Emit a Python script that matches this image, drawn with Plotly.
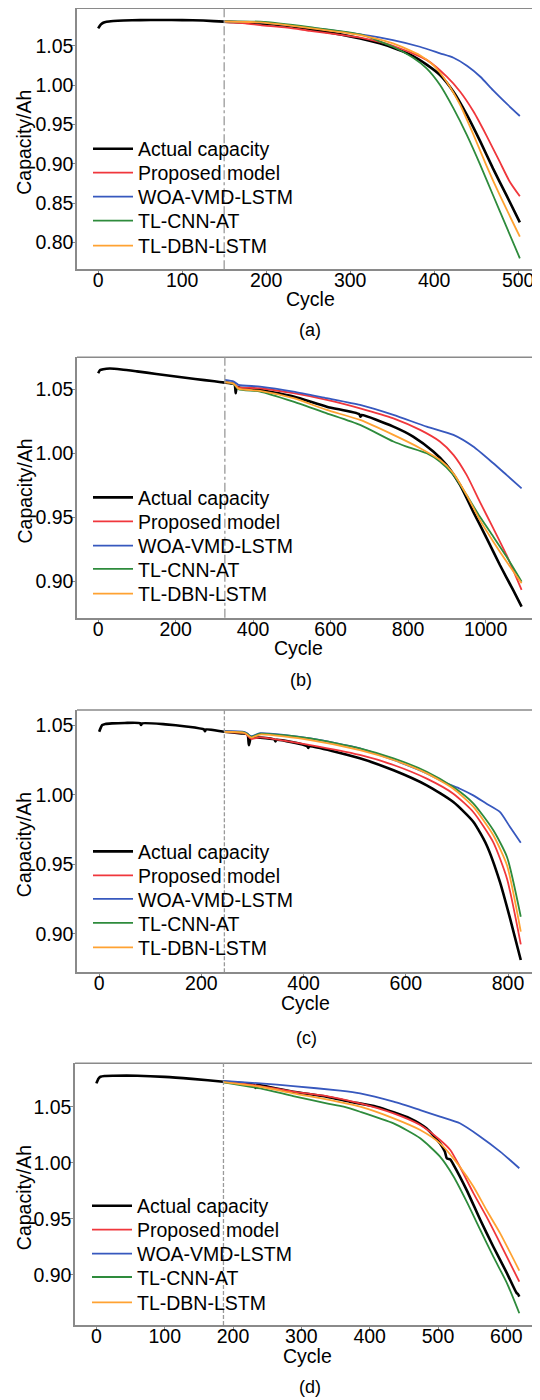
import plotly.graph_objects as go

# ---------------- data ----------------
names = ["Actual capacity", "Proposed model", "WOA-VMD-LSTM", "TL-CNN-AT", "TL-DBN-LSTM"]
colors = ["#000000", "#F0373C", "#3758BE", "#2E8B3C", "#FFA232"]
widths = [2.6, 1.8, 1.8, 1.8, 1.8]
captions = ["(a)", "(b)", "(c)", "(d)"]
start_cycles = [150, 327, 245, 186]

# Panel (a)
a_act_x = [0, 3, 6, 10, 18, 30, 50, 75, 100, 125, 150, 175, 193, 225, 252, 280, 312, 335, 351, 371, 391, 407, 423, 439, 455, 470, 486, 502]
a_act_y = [1.072, 1.0768, 1.0792, 1.0805, 1.0814, 1.0821, 1.0826, 1.0827, 1.0826, 1.0820, 1.0806, 1.0797, 1.0784, 1.0755, 1.0710, 1.0660, 1.0593, 1.0530, 1.0475, 1.0390, 1.0260, 1.0127, 0.9915, 0.9620, 0.9280, 0.8940, 0.8600, 0.8254]
a_red_x = [150, 175, 193, 225, 252, 280, 312, 351, 391, 415, 431, 447, 462, 478, 490, 502]
a_red_y = [1.0800, 1.0785, 1.0763, 1.0730, 1.0690, 1.0650, 1.0602, 1.0500, 1.0320, 1.0106, 0.9915, 0.9660, 0.9364, 0.9025, 0.8771, 0.8585]
a_blue_x = [150, 193, 252, 312, 351, 383, 407, 423, 439, 455, 470, 486, 502]
a_blue_y = [1.0808, 1.0797, 1.0729, 1.0644, 1.0572, 1.0487, 1.0403, 1.0347, 1.0246, 1.0106, 0.9936, 0.9767, 0.9606]
a_green_x = [150, 193, 252, 312, 351, 375, 391, 407, 423, 439, 455, 470, 486, 502]
a_green_y = [1.0810, 1.0805, 1.0735, 1.0644, 1.0487, 1.0347, 1.0212, 1.0000, 0.9703, 0.9364, 0.8983, 0.8602, 0.8199, 0.7797]
a_orange_x = [150, 193, 252, 312, 351, 383, 399, 415, 431, 447, 462, 478, 502]
a_orange_y = [1.0808, 1.0797, 1.0725, 1.0636, 1.0530, 1.0380, 1.0254, 1.0040, 0.9746, 0.9364, 0.8983, 0.8602, 0.8072]

# Panel (b)
b_act_x = [0, 5, 13, 30, 60, 100, 150, 200, 250, 300, 327, 345, 352, 355, 358, 365, 400, 418, 504, 590, 674, 677, 680, 762, 813, 865, 899, 934, 968, 1003, 1037, 1071, 1093]
b_act_y = [1.0625, 1.0650, 1.0657, 1.0662, 1.0655, 1.0640, 1.0620, 1.0600, 1.0580, 1.0562, 1.0552, 1.0545, 1.0540, 1.0469, 1.0520, 1.0512, 1.0505, 1.0495, 1.0443, 1.0364, 1.0305, 1.0285, 1.0298, 1.0208, 1.0130, 1.0013, 0.9909, 0.9752, 0.9543, 0.9334, 0.9125, 0.8930, 0.8800]
b_red_x = [327, 350, 362, 400, 418, 504, 590, 676, 762, 831, 882, 917, 951, 985, 1020, 1054, 1093]
b_red_y = [1.0555, 1.0545, 1.0515, 1.0510, 1.0508, 1.0469, 1.0417, 1.0351, 1.0273, 1.0182, 1.0091, 0.9987, 0.9830, 0.9621, 0.9412, 0.9204, 0.8930]
b_blue_x = [327, 350, 362, 418, 504, 590, 676, 762, 848, 917, 968, 1020, 1054, 1093]
b_blue_y = [1.0573, 1.0560, 1.0535, 1.0521, 1.0482, 1.0430, 1.0377, 1.0299, 1.0208, 1.0143, 1.0052, 0.9921, 0.9830, 0.9725]
b_green_x = [327, 350, 362, 418, 504, 590, 676, 762, 796, 848, 882, 917, 951, 985, 1020, 1054, 1093]
b_green_y = [1.0555, 1.0540, 1.0500, 1.0482, 1.0403, 1.0312, 1.0221, 1.0091, 1.0052, 1.0000, 0.9935, 0.9830, 0.9673, 0.9504, 0.9347, 0.9191, 0.8995]
b_orange_x = [327, 350, 362, 418, 504, 590, 676, 762, 831, 882, 917, 951, 985, 1020, 1054, 1093]
b_orange_y = [1.0555, 1.0542, 1.0505, 1.0487, 1.0430, 1.0338, 1.0260, 1.0143, 1.0039, 0.9948, 0.9843, 0.9673, 0.9478, 0.9308, 0.9152, 0.8982]

# Panel (c)
c_act_x = [0, 3, 6, 12, 25, 50, 80, 82, 84, 130, 170, 205, 207, 209, 245, 278, 290, 293, 297, 305, 315, 343, 345, 347, 407, 409, 411, 510, 576, 641, 693, 732, 758, 784, 804, 825]
c_act_y = [1.0452, 1.0480, 1.0500, 1.0508, 1.0512, 1.0515, 1.0513, 1.0500, 1.0512, 1.0505, 1.0490, 1.0469, 1.0455, 1.0468, 1.0452, 1.0440, 1.0435, 1.0356, 1.0410, 1.0411, 1.0410, 1.0396, 1.0383, 1.0394, 1.0349, 1.0336, 1.0347, 1.0261, 1.0175, 1.0067, 0.9947, 0.9806, 0.9639, 0.9376, 0.9112, 0.8813]
c_red_x = [245, 285, 298, 315, 413, 510, 576, 641, 693, 732, 771, 798, 825]
c_red_y = [1.0450, 1.0440, 1.0400, 1.0412, 1.0356, 1.0285, 1.0213, 1.0115, 1.0007, 0.9876, 0.9660, 0.9397, 0.8926]
c_blue_x = [245, 285, 298, 315, 413, 510, 576, 641, 680, 706, 732, 758, 784, 804, 825]
c_blue_y = [1.0458, 1.0450, 1.0420, 1.0442, 1.0404, 1.0333, 1.0249, 1.0153, 1.0081, 1.0043, 0.9995, 0.9935, 0.9876, 0.9768, 0.9655]
c_green_x = [245, 285, 298, 315, 413, 510, 576, 641, 693, 732, 771, 798, 825]
c_green_y = [1.0452, 1.0445, 1.0415, 1.0438, 1.0404, 1.0333, 1.0261, 1.0165, 1.0055, 0.9938, 0.9746, 0.9553, 0.9124]
c_orange_x = [245, 285, 298, 315, 413, 510, 576, 641, 693, 732, 771, 798, 825]
c_orange_y = [1.0452, 1.0443, 1.0410, 1.0432, 1.0392, 1.0320, 1.0249, 1.0153, 1.0043, 0.9914, 0.9711, 0.9493, 0.9017]

# Panel (d)
d_act_x = [0, 3, 6, 12, 25, 60, 100, 140, 186, 231, 233, 235, 240, 288, 337, 371, 410, 459, 483, 503, 510, 513, 518, 523, 542, 562, 581, 601, 615, 617, 619]
d_act_y = [1.0708, 1.0750, 1.0767, 1.0774, 1.0776, 1.0776, 1.0766, 1.0748, 1.0723, 1.0695, 1.0668, 1.0693, 1.0690, 1.0634, 1.0589, 1.0545, 1.0500, 1.0396, 1.0307, 1.0173, 1.0100, 1.0039, 1.0030, 0.9980, 0.9757, 0.9490, 0.9252, 0.9015, 0.8840, 0.8830, 0.8807]
d_red_x = [186, 240, 288, 337, 386, 435, 474, 503, 518, 532, 552, 571, 591, 619]
d_red_y = [1.0725, 1.0684, 1.0634, 1.0595, 1.0530, 1.0441, 1.0337, 1.0203, 1.0114, 0.9965, 0.9728, 0.9520, 0.9282, 0.8941]
d_blue_x = [186, 240, 288, 357, 386, 435, 474, 503, 532, 562, 591, 619]
d_blue_y = [1.0730, 1.0708, 1.0684, 1.0643, 1.0619, 1.0545, 1.0470, 1.0411, 1.0352, 1.0233, 1.0100, 0.9951]
d_green_x = [186, 240, 288, 337, 362, 386, 435, 474, 503, 523, 542, 562, 581, 601, 619]
d_green_y = [1.0718, 1.0663, 1.0595, 1.0530, 1.0500, 1.0455, 1.0351, 1.0218, 1.0055, 0.9876, 0.9654, 0.9401, 0.9163, 0.8926, 0.8659]
d_orange_x = [186, 240, 288, 337, 386, 435, 474, 503, 532, 552, 571, 591, 619]
d_orange_y = [1.0720, 1.0678, 1.0619, 1.0565, 1.0500, 1.0396, 1.0292, 1.0173, 0.9965, 0.9787, 0.9579, 0.9371, 0.9039]

panels = [
    [(a_act_x, a_act_y), (a_red_x, a_red_y), (a_blue_x, a_blue_y), (a_green_x, a_green_y), (a_orange_x, a_orange_y)],
    [(b_act_x, b_act_y), (b_red_x, b_red_y), (b_blue_x, b_blue_y), (b_green_x, b_green_y), (b_orange_x, b_orange_y)],
    [(c_act_x, c_act_y), (c_red_x, c_red_y), (c_blue_x, c_blue_y), (c_green_x, c_green_y), (c_orange_x, c_orange_y)],
    [(d_act_x, d_act_y), (d_red_x, d_red_y), (d_blue_x, d_blue_y), (d_green_x, d_green_y), (d_orange_x, d_orange_y)],
]

x_tickvals = [[0, 100, 200, 300, 400, 500], [0, 200, 400, 600, 800, 1000], [0, 200, 400, 600, 800], [0, 100, 200, 300, 400, 500, 600]]
y_tickvals = [[0.80, 0.85, 0.90, 0.95, 1.00, 1.05], [0.90, 0.95, 1.00, 1.05], [0.90, 0.95, 1.00, 1.05], [0.90, 0.95, 1.00, 1.05]]

# ---------------- layout geometry (window pixels) ----------------
OFF = 8                      # page body margin of the html page
W, H = 540 - OFF, 1400 - OFF  # figure size so that it ends at the window edge
x_ranges = [[-25.2, 526.0], [-54.7, 1140.5], [-43.4, 862.6], [-31.3, 649.3]]
y_ranges = [[0.7657, 1.0976], [0.8713, 1.0750], [0.8725, 1.0608], [0.8554, 1.0887]]
plot_left = [77, 77, 77, 75]
plot_top = [8.3, 357.3, 710.0, 1063.3]
plot_bottom = [269.3, 617.7, 972.3, 1325.0]
cycle_label_pos = [(310, 299), (298, 648), (305, 1003), (307, 1356)]
caption_pos = [(310, 330), (301, 680), (306, 1038), (310, 1387)]
ylabel_x = 24
legend_x0 = [88, 88, 88, 87]
legend_rows = [[149, 173, 197, 221, 246],
               [497.7, 521.7, 546, 569.3, 594],
               [851.7, 875.7, 899.3, 923.3, 947.7],
               [1206, 1230, 1254, 1277.3, 1302.7]]

FONT = "Arial, Liberation Sans, sans-serif"
FS = 19.5
FRAME = "#8a8a8a"


def px(wx):
    return (wx - OFF) / W


def py(wy):
    return 1 - (wy - OFF) / H


fig = go.Figure()
layout = dict(
    width=W, height=H, margin=dict(l=0, r=0, t=0, b=0, pad=0),
    paper_bgcolor="white", plot_bgcolor="white",
    font=dict(family=FONT, size=FS, color="black"),
    showlegend=True,
)
shapes = []
annotations = []

for p in range(4):
    xa = "x" if p == 0 else f"x{p+1}"
    ya = "y" if p == 0 else f"y{p+1}"
    for k in range(5):
        xs, ys = panels[p][k]
        idx = p * 5 + k + 1
        lid = "legend" if idx == 1 else f"legend{idx}"
        fig.add_trace(go.Scatter(
            x=xs, y=ys, mode="lines", name=names[k],
            line=dict(color=colors[k], width=widths[k], shape="spline", smoothing=0.6),
            xaxis=xa, yaxis=ya, legend=lid, showlegend=True,
        ))
        layout[lid] = dict(x=px(legend_x0[p]), y=py(legend_rows[p][k]),
                           xanchor="left", yanchor="middle",
                           bgcolor="rgba(0,0,0,0)", borderwidth=0,
                           font=dict(family=FONT, size=FS, color="black"),
                           itemwidth=40)

for p in range(4):
    xk = "xaxis" if p == 0 else f"xaxis{p+1}"
    yk = "yaxis" if p == 0 else f"yaxis{p+1}"
    xa = "x" if p == 0 else f"x{p+1}"
    ya = "y" if p == 0 else f"y{p+1}"
    ydom = [py(plot_bottom[p]), py(plot_top[p])]
    xdom = [px(plot_left[p]), 1.0]
    layout[xk] = dict(
        domain=xdom, range=x_ranges[p], anchor=ya, tickvals=x_tickvals[p],
        showgrid=False, zeroline=False, showline=True, linecolor=FRAME, linewidth=1.5,
        ticks="outside", ticklen=4, tickcolor=FRAME, tickwidth=1, ticklabelstandoff=-11,
        tickfont=dict(family=FONT, size=FS, color="black"),
    )
    layout[yk] = dict(
        domain=ydom, range=y_ranges[p], anchor=xa, tickvals=y_tickvals[p],
        tickformat=".2f",
        showgrid=False, zeroline=False, showline=True, linecolor=FRAME, linewidth=1.5,
        ticks="outside", ticklen=4, tickcolor=FRAME, tickwidth=1, ticklabelstandoff=-6,
        tickfont=dict(family=FONT, size=FS, color="black"),
    )
    shapes.append(dict(type="line", xref=f"{xa} domain", yref=f"{ya} domain",
                       x0=0, x1=1, y0=1, y1=1, line=dict(color=FRAME, width=1.5)))
    dash = "dashdot" if p < 2 else "4px,2px"
    shapes.append(dict(type="line", xref=xa, yref=f"{ya} domain",
                       x0=start_cycles[p], x1=start_cycles[p], y0=0, y1=1,
                       line=dict(color="#9a9a9a", width=1.3, dash=dash)))
    cx, cy = cycle_label_pos[p]
    annotations.append(dict(text="Cycle", xref="paper", yref="paper", x=px(cx), y=py(cy),
                            xanchor="center", yanchor="middle", showarrow=False,
                            font=dict(family=FONT, size=FS, color="black")))
    kx, ky = caption_pos[p]
    annotations.append(dict(text=captions[p], xref="paper", yref="paper", x=px(kx), y=py(ky),
                            xanchor="center", yanchor="middle", showarrow=False,
                            font=dict(family=FONT, size=18, color="black")))
    annotations.append(dict(text="Capacity/Ah", xref="paper", yref="paper", x=px(ylabel_x),
                            y=py((plot_top[p] + plot_bottom[p]) / 2 + 4),
                            xanchor="center", yanchor="middle", textangle=-90, showarrow=False,
                            font=dict(family=FONT, size=FS, color="black")))

layout["shapes"] = shapes
layout["annotations"] = annotations
fig.update_layout(**layout)

fig.write_html("out.html")
